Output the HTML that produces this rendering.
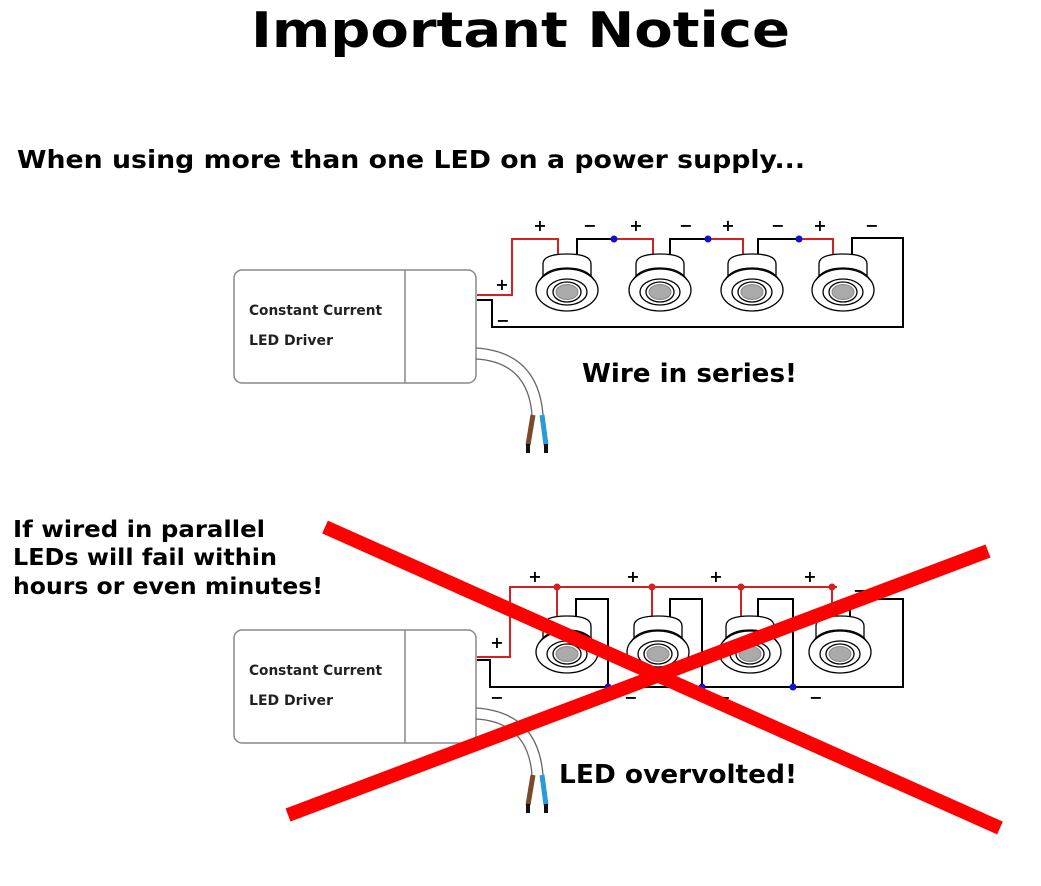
<!DOCTYPE html>
<html><head><meta charset="utf-8"><style>
html,body{margin:0;padding:0;background:#fff}
svg{display:block}
text{font-family:"DejaVu Sans","Liberation Sans",sans-serif;font-weight:bold}
</style></head><body>
<svg width="1041" height="886" viewBox="0 0 1041 886" xmlns="http://www.w3.org/2000/svg">
<rect width="1041" height="886" fill="#fff"/>
<text x="251" y="47" font-size="49" textLength="539" lengthAdjust="spacingAndGlyphs">Important Notice</text>
<text x="17" y="168" font-size="25" textLength="788" lengthAdjust="spacingAndGlyphs">When using more than one LED on a power supply...</text>
<text x="582" y="382" font-size="26" textLength="215" lengthAdjust="spacingAndGlyphs">Wire in series!</text>
<text x="13" y="537" font-size="23" textLength="252" lengthAdjust="spacingAndGlyphs">If wired in parallel</text>
<text x="13" y="565" font-size="23" textLength="264" lengthAdjust="spacingAndGlyphs">LEDs will fail within</text>
<text x="13" y="594" font-size="23" textLength="310" lengthAdjust="spacingAndGlyphs">hours or even minutes!</text>
<text x="559" y="783" font-size="26" textLength="238" lengthAdjust="spacingAndGlyphs">LED overvolted!</text>

<defs>
<g id="led">
<path d="M-24,-14 L-24,-26 Q-24,-36 0,-36 Q24,-36 24,-26 L24,-14" fill="#fff" stroke="#000" stroke-width="1.3"/>
<ellipse cx="0" cy="0" rx="31" ry="21" fill="#fff" stroke="#000" stroke-width="1.3"/>
<path d="M-27,-10 Q-20,-22 0,-22 Q20,-22 27,-10" fill="none" stroke="#000" stroke-width="1.3"/>
<ellipse cx="0" cy="2" rx="20" ry="13" fill="#fff" stroke="#000" stroke-width="1.3"/>
<ellipse cx="0" cy="2" rx="14" ry="10" fill="#fff" stroke="#000" stroke-width="1.3"/>
<ellipse cx="0" cy="2" rx="11" ry="7.5" fill="#aaa" stroke="#888" stroke-width="1"/>
</g>
<g id="driver">
<rect x="234" y="0" width="242" height="113" rx="8" fill="#fff" stroke="#888" stroke-width="1.5"/>
<line x1="405" y1="0" x2="405" y2="113" stroke="#888" stroke-width="1.5"/>
<text x="249" y="45" font-size="14" fill="#222" textLength="133" lengthAdjust="spacingAndGlyphs">Constant Current</text>
<text x="249" y="75" font-size="14" fill="#222" textLength="84" lengthAdjust="spacingAndGlyphs">LED Driver</text>
<path d="M476,78 Q538,82 543,145" fill="none" stroke="#666" stroke-width="1.3"/>
<path d="M476,89 Q528,92 532,145" fill="none" stroke="#666" stroke-width="1.3"/>
<path d="M533,145 L528,175" stroke="#7a4a2a" stroke-width="5"/>
<path d="M542,145 L546,175" stroke="#2a9ad8" stroke-width="5"/>
<path d="M528,174 L528,183 M546,174 L546,183" stroke="#111" stroke-width="4"/>
</g>
</defs>

<g transform="translate(0,270)"><use href="#driver"/></g>
<g fill="none" stroke-width="2">
<path d="M477,295 L512,295 L512,239 L558,239 L558,260" stroke="#d42020"/>
<path d="M577,260 L577,239 L614,239" stroke="#000"/>
<path d="M614,239 L653,239 L653,260" stroke="#d42020"/>
<path d="M670,260 L670,239 L708,239" stroke="#000"/>
<path d="M708,239 L743,239 L743,260" stroke="#d42020"/>
<path d="M758,260 L758,239 L799,239" stroke="#000"/>
<path d="M799,239 L833,239 L833,260" stroke="#d42020"/>
<path d="M852,260 L852,238 L903,238 L903,327 L492,327 L492,300 L477,300" stroke="#000"/>
</g>
<use href="#led" x="567" y="290"/><use href="#led" x="660" y="290"/><use href="#led" x="752" y="290"/><use href="#led" x="843" y="290"/>
<g fill="#1010d0"><circle cx="614" cy="239" r="3.5"/><circle cx="708" cy="239" r="3.5"/><circle cx="799" cy="239" r="3.5"/></g>
<g font-size="16" text-anchor="middle">
<text x="540" y="231">+</text><text x="590" y="231">−</text><text x="636" y="231">+</text><text x="686" y="231">−</text>
<text x="728" y="231">+</text><text x="778" y="231">−</text><text x="820" y="231">+</text><text x="872" y="231">−</text>
<text x="502" y="290">+</text><text x="503" y="326">−</text>
</g>

<g transform="translate(0,630)"><use href="#driver"/></g>
<g fill="none" stroke-width="2">
<path d="M477,657 L510,657 L510,587 L837,587" stroke="#d42020"/>
<path d="M557,587 V622 M652,587 V622 M741,587 V622 M832,587 V622" stroke="#d42020"/>
<path d="M477,660 L490,660 L490,687 L903,687 L903,599 L850,599 L850,622" stroke="#000"/>
<path d="M576,622 L576,599 L608,599 L608,687" stroke="#000"/>
<path d="M670,622 L670,599 L702,599 L702,687" stroke="#000"/>
<path d="M758,622 L758,599 L793,599 L793,687" stroke="#000"/>
</g>
<use href="#led" x="567" y="652"/><use href="#led" x="658" y="652"/><use href="#led" x="750" y="652"/><use href="#led" x="840" y="652"/>
<g fill="#d42020"><circle cx="557" cy="587" r="3.5"/><circle cx="652" cy="587" r="3.5"/><circle cx="741" cy="587" r="3.5"/><circle cx="832" cy="587" r="3.5"/></g>
<g fill="#1010d0"><circle cx="608" cy="687" r="3.5"/><circle cx="702" cy="687" r="3.5"/><circle cx="793" cy="687" r="3.5"/></g>
<g font-size="16" text-anchor="middle">
<text x="535" y="582">+</text><text x="633" y="582">+</text><text x="716" y="582">+</text><text x="810" y="582">+</text><text x="860" y="596">−</text>
<text x="497" y="648">+</text>
<text x="497" y="703">−</text><text x="631" y="703">−</text><text x="724" y="703">−</text><text x="816" y="703">−</text>
</g>
<g stroke="#ff0000" stroke-width="14">
<line x1="325" y1="527" x2="1000" y2="828"/>
<line x1="288" y1="815" x2="988" y2="551"/>
</g>
</svg>
</body></html>
